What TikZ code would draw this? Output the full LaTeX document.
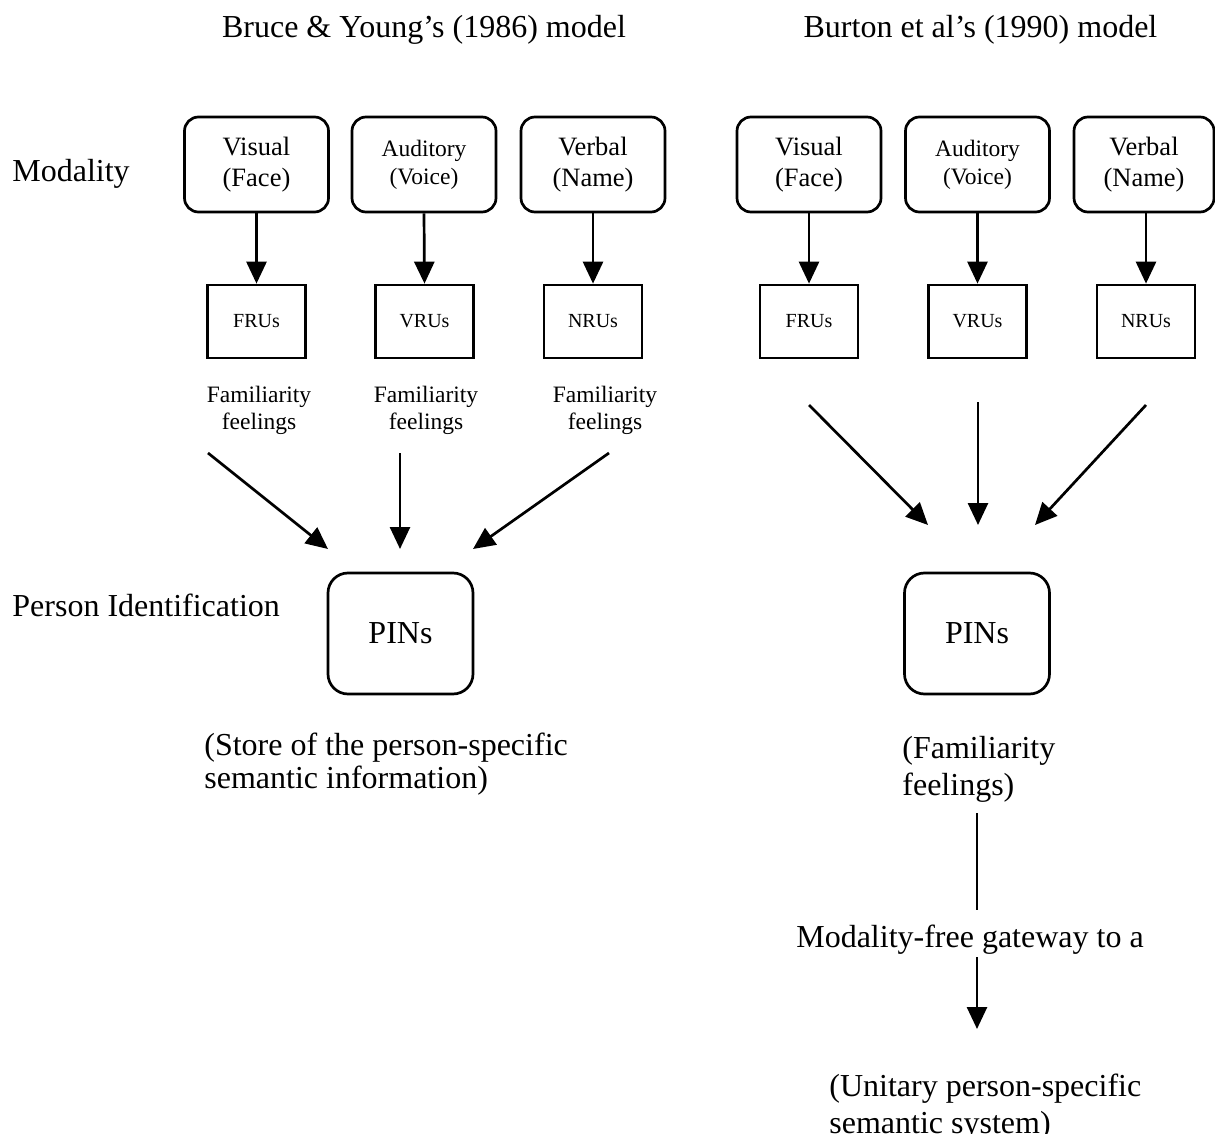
\documentclass[tikz,border=0pt]{standalone}
\usepackage{fontspec}
\setmainfont{Liberation Serif}
\usetikzlibrary{arrows.meta}
\begin{document}
\begin{tikzpicture}[x=0.5pt,y=-0.5pt,
  lw/.style={line width=1.35pt},
  modbox/.style={draw,lw,rounded corners=7pt,minimum width=72pt,minimum height=47.5pt,inner sep=0pt,align=center,font=\fontsize{13.25}{15.5}\selectfont},
  audbox/.style={modbox,font=\fontsize{11.75}{14}\selectfont},
  unitbox/.style={draw,lw,minimum width=49pt,minimum height=36.5pt,inner sep=0pt,font=\fontsize{10}{12}\selectfont},
  pinbox/.style={draw,lw,rounded corners=10pt,minimum width=72.5pt,minimum height=60.5pt,inner sep=0pt,font=\fontsize{16}{18}\selectfont},
  big/.style={inner sep=0pt,font=\fontsize{16}{16.5}\selectfont},
  bigtwo/.style={inner sep=0pt,align=left,anchor=west,font=\fontsize{16}{16.5}\selectfont},
  bigtwowide/.style={inner sep=0pt,align=left,anchor=west,font=\fontsize{16}{18.5}\selectfont},
  famlab/.style={inner sep=0pt,align=center,font=\fontsize{11.75}{13.5}\selectfont},
  arr/.style={lw,-{Triangle[length=11pt,width=10pt]}},
  plain/.style={lw}
]
\useasboundingbox (0,0) rectangle (1215,1134);

% titles
\node[big] (t1) at (424,30) {Bruce \& Young’s (1986) model};
\node[big] (t2) at (980.5,30) {Burton et al’s (1990) model};

% row labels
\node[big,anchor=west] (modality) at (12,174) {Modality};
\node[big,anchor=west] (personid) at (12,605) {Person Identification};

% ---- left model ----
\node[modbox] (lvis) at (256.5,164.5) {Visual\\(Face)};
\node[audbox] (laud) at (424,164.5) {Auditory\\(Voice)};
\node[modbox] (lverb) at (593,164.5) {Verbal\\(Name)};

\node[unitbox] (lfru) at (256.5,321.5) {FRUs};
\node[unitbox] (lvru) at (424.5,321.5) {VRUs};
\node[unitbox] (lnru) at (593,321.5) {NRUs};

\draw[arr] (lvis.south) -- (lfru.north);
\draw[arr] (laud.south) -- (lvru.north);
\draw[arr] (lverb.south) -- (lnru.north);

\node[famlab] (lfam1) at (259,410) {Familiarity\\feelings};
\node[famlab] (lfam2) at (426,410) {Familiarity\\feelings};
\node[famlab] (lfam3) at (605,410) {Familiarity\\feelings};

\coordinate (la1) at (208,453);
\coordinate (la1e) at (328,549);
\coordinate (la2) at (400,453);
\coordinate (la2e) at (400,549);
\coordinate (la3) at (609,453);
\coordinate (la3e) at (473,549);
\draw[arr] (la1) -- (la1e);
\draw[arr] (la2) -- (la2e);
\draw[arr] (la3) -- (la3e);

\node[pinbox] (lpin) at (400.5,633.5) {PINs};
\node[bigtwo] (lstore) at (204,764.5) {(Store of the person-specific\\semantic information)};

% ---- right model ----
\node[modbox] (rvis) at (809,164.5) {Visual\\(Face)};
\node[audbox] (raud) at (977.5,164.5) {Auditory\\(Voice)};
\node[modbox,minimum width=70pt] (rverb) at (1144,164.5) {Verbal\\(Name)};

\node[unitbox] (rfru) at (809,321.5) {FRUs};
\node[unitbox] (rvru) at (977.5,321.5) {VRUs};
\node[unitbox] (rnru) at (1146,321.5) {NRUs};

\draw[arr] (rvis.south) -- (rfru.north);
\draw[arr] (raud.south) -- (rvru.north);
\draw[arr] (rnru.north |- rverb.south) -- (rnru.north);

\coordinate (ra1) at (809,405);
\coordinate (ra1e) at (928,525);
\coordinate (ra2) at (978,402);
\coordinate (ra2e) at (978,525);
\coordinate (ra3) at (1146,405);
\coordinate (ra3e) at (1035,525);
\draw[arr] (ra1) -- (ra1e);
\draw[arr] (ra2) -- (ra2e);
\draw[arr] (ra3) -- (ra3e);

\node[pinbox] (rpin) at (977,633.5) {PINs};
\node[bigtwowide] (rfam) at (902,769.5) {(Familiarity\\feelings)};

\coordinate (rl1) at (977,813);
\coordinate (rl1e) at (977,910);
\draw[plain] (rl1) -- (rl1e);

\node[big] (gate) at (970,940) {Modality-free gateway to a};

\coordinate (rl2) at (977,957);
\coordinate (rl2e) at (977,1029);
\draw[arr] (rl2) -- (rl2e);

\node[bigtwowide] (unit) at (829,1107) {(Unitary person-specific\\semantic system)};
\end{tikzpicture}
\end{document}
